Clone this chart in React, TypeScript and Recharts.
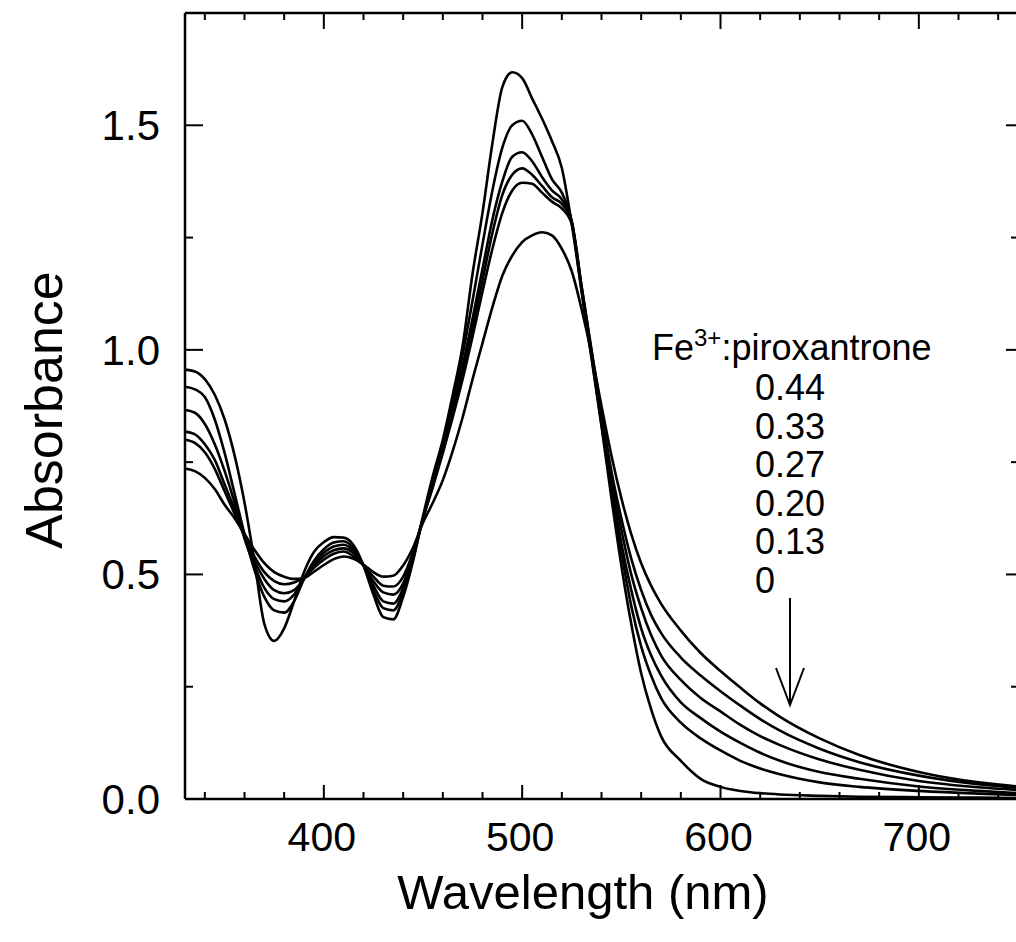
import { LineChart, Line, XAxis, YAxis } from 'recharts'

// wavelength grid (nm)
const wavelengths = [
  330, 335, 340, 345, 350, 355, 360, 365, 370, 375, 380, 385, 390, 395, 400, 405, 410, 415, 420, 425,
  430, 435, 440, 445, 450, 455, 460, 465, 470, 475, 480, 485, 490, 495, 500, 505, 510, 515, 520, 525,
  530, 535, 540, 545, 550, 555, 560, 565, 570, 580, 590, 600, 610, 620, 630, 650, 670, 700, 730, 750,
]

// Fe3+:piroxantrone = 0
const ratio0 = [
  0.956, 0.952, 0.935, 0.9, 0.845, 0.765, 0.66, 0.53, 0.39, 0.352, 0.38, 0.44, 0.505, 0.55, 0.572, 0.583, 0.582, 0.565, 0.52, 0.455,
  0.405, 0.4, 0.45, 0.53, 0.63, 0.72, 0.8, 0.9, 1.01, 1.17, 1.305, 1.46, 1.585, 1.618, 1.605, 1.56, 1.515, 1.465, 1.405, 1.28,
  1.13, 0.98, 0.83, 0.67, 0.52, 0.39, 0.28, 0.2, 0.14, 0.085, 0.045, 0.027, 0.018, 0.013, 0.01, 0.007, 0.005, 0.004, 0.003, 0.002,
]
// 0.13
const ratio13 = [
  0.918, 0.912, 0.895, 0.845, 0.77, 0.68, 0.59, 0.51, 0.45, 0.42, 0.415, 0.44, 0.49, 0.53, 0.556, 0.571, 0.574, 0.558, 0.52, 0.465,
  0.425, 0.42, 0.46, 0.535, 0.625, 0.71, 0.79, 0.885, 0.99, 1.11, 1.235, 1.355, 1.45, 1.5, 1.51, 1.48, 1.43, 1.38, 1.35, 1.285,
  1.13, 0.985, 0.835, 0.685, 0.55, 0.43, 0.34, 0.275, 0.225, 0.17, 0.135, 0.108, 0.085, 0.068, 0.055, 0.037, 0.027, 0.018, 0.012, 0.009,
]
// 0.20
const ratio20 = [
  0.866, 0.86, 0.835, 0.79, 0.73, 0.66, 0.58, 0.52, 0.47, 0.445, 0.44, 0.455, 0.49, 0.525, 0.548, 0.562, 0.566, 0.552, 0.52, 0.475,
  0.44, 0.435, 0.47, 0.54, 0.625, 0.7, 0.78, 0.87, 0.965, 1.07, 1.18, 1.29, 1.375, 1.43, 1.44, 1.42, 1.385, 1.355, 1.335, 1.285,
  1.135, 0.99, 0.84, 0.7, 0.57, 0.465, 0.38, 0.32, 0.275, 0.215, 0.18, 0.15, 0.125, 0.103, 0.085, 0.06, 0.045, 0.028, 0.018, 0.013,
]
// 0.27
const ratio27 = [
  0.818, 0.812, 0.79, 0.755, 0.7, 0.645, 0.585, 0.53, 0.49, 0.465, 0.458, 0.465, 0.49, 0.52, 0.541, 0.554, 0.558, 0.547, 0.52, 0.485,
  0.46, 0.455, 0.48, 0.545, 0.625, 0.7, 0.775, 0.86, 0.95, 1.05, 1.155, 1.26, 1.345, 1.39, 1.404, 1.39, 1.365, 1.34, 1.325, 1.285,
  1.14, 0.995, 0.85, 0.715, 0.6, 0.5, 0.425, 0.365, 0.32, 0.265, 0.225, 0.195, 0.165, 0.14, 0.12, 0.088, 0.065, 0.04, 0.026, 0.02,
]
// 0.33
const ratio33 = [
  0.8, 0.793, 0.772, 0.735, 0.685, 0.635, 0.585, 0.54, 0.505, 0.485, 0.478, 0.482, 0.493, 0.515, 0.533, 0.546, 0.551, 0.54, 0.52, 0.495,
  0.475, 0.473, 0.495, 0.55, 0.625, 0.695, 0.77, 0.85, 0.935, 1.03, 1.13, 1.225, 1.305, 1.355, 1.372, 1.37, 1.35, 1.33, 1.315, 1.28,
  1.14, 1.0, 0.86, 0.73, 0.625, 0.535, 0.465, 0.41, 0.37, 0.315, 0.275, 0.24, 0.208, 0.178, 0.152, 0.112, 0.082, 0.052, 0.033, 0.025,
]
// 0.44
const ratio44 = [
  0.736, 0.73, 0.715, 0.69, 0.655, 0.625, 0.59, 0.555, 0.525, 0.505, 0.495, 0.49, 0.492, 0.506, 0.521, 0.534, 0.54, 0.535, 0.522, 0.505,
  0.495, 0.497, 0.52, 0.56, 0.615, 0.66, 0.71, 0.775, 0.85, 0.935, 1.015, 1.095, 1.165, 1.21, 1.24, 1.255, 1.262, 1.255, 1.225, 1.175,
  1.09, 0.99, 0.875, 0.765, 0.67, 0.59, 0.525, 0.475, 0.435, 0.375, 0.325, 0.285, 0.248, 0.213, 0.183, 0.135, 0.098, 0.06, 0.037, 0.028,
]

const seriesKeys = ['r0', 'r13', 'r20', 'r27', 'r33', 'r44']
const ratioLabels = ['0.44', '0.33', '0.27', '0.20', '0.13', '0']

const xTicks = [340, 360, 380, 400, 420, 440, 460, 480, 500, 520, 540, 560, 580, 600, 620, 640, 660, 680, 700, 720, 740]
const yTicks = [0, 0.25, 0.5, 0.75, 1, 1.25, 1.5]

const data = wavelengths.map((nm, i) => ({
  nm,
  r0: ratio0[i],
  r13: ratio13[i],
  r20: ratio20[i],
  r27: ratio27[i],
  r33: ratio33[i],
  r44: ratio44[i],
}))

const FONT = '"Liberation Sans", Arial, Helvetica, sans-serif'

function BottomTick({ x, y, payload }: any) {
  const major = payload.value % 100 === 0
  return (
    <g>
      <line x1={x} x2={x} y1={y} y2={y - (major ? 14 : 7)} stroke="#000" strokeWidth={2} />
      {major && (
        <text x={x - 2} y={y + 52} textAnchor="middle" fontSize={41} fontFamily={FONT} fill="#000">
          {payload.value}
        </text>
      )}
    </g>
  )
}

function TopTick({ x, y, payload }: any) {
  const major = payload.value % 100 === 0
  return <line x1={x} x2={x} y1={y} y2={y + (major ? 16 : 7)} stroke="#000" strokeWidth={2} />
}

function LeftTick({ x, y, payload }: any) {
  const major = Math.abs(payload.value * 2 - Math.round(payload.value * 2)) < 1e-6
  return (
    <g>
      <line x1={x} x2={x + (major ? 18 : 8)} y1={y} y2={y} stroke="#000" strokeWidth={2} />
      {major && (
        <text x={x - 25} y={y + 15} textAnchor="end" fontSize={42} fontFamily={FONT} fill="#000">
          {payload.value.toFixed(1)}
        </text>
      )}
    </g>
  )
}

function RightTick({ x, y, payload }: any) {
  const major = Math.abs(payload.value * 2 - Math.round(payload.value * 2)) < 1e-6
  return <line x1={x} x2={x - (major ? 12 : 7)} y1={y} y2={y} stroke="#000" strokeWidth={2} />
}

export default function App() {
  const axisLine = { stroke: '#000', strokeWidth: 2.5 }
  return (
    <div style={{ position: 'absolute', left: 0, top: 0, width: 1016, height: 942, overflow: 'hidden', background: '#fff' }}>
      <LineChart width={1022} height={942} data={data} margin={{ top: 0, right: 0, bottom: 0, left: 0 }}>
        <XAxis
          dataKey="nm"
          type="number"
          domain={[330, 750]}
          ticks={xTicks}
          interval={0}
          height={143}
          tickSize={0}
          tickMargin={0}
          tickLine={false}
          axisLine={axisLine}
          tick={<BottomTick />}
          allowDataOverflow
        />
        <XAxis
          xAxisId="top"
          orientation="top"
          dataKey="nm"
          type="number"
          domain={[330, 750]}
          ticks={xTicks}
          interval={0}
          height={13}
          tickSize={0}
          tickMargin={0}
          tickLine={false}
          axisLine={axisLine}
          tick={<TopTick />}
          allowDataOverflow
        />
        <YAxis
          type="number"
          domain={[0, 1.75]}
          ticks={yTicks}
          interval={0}
          width={185}
          tickSize={0}
          tickMargin={0}
          tickLine={false}
          axisLine={axisLine}
          tick={<LeftTick />}
          allowDataOverflow
        />
        <YAxis
          yAxisId="right"
          orientation="right"
          type="number"
          domain={[0, 1.75]}
          ticks={yTicks}
          interval={0}
          width={4}
          tickSize={0}
          tickMargin={0}
          tickLine={false}
          axisLine={axisLine}
          tick={<RightTick />}
          allowDataOverflow
        />
        {seriesKeys.map((k) => (
          <Line
            key={k}
            type="monotone"
            dataKey={k}
            stroke="#000"
            strokeWidth={2.6}
            dot={false}
            activeDot={false}
            isAnimationActive={false}
          />
        ))}
      </LineChart>

      <svg
        width={1016}
        height={942}
        style={{ position: 'absolute', left: 0, top: 0, pointerEvents: 'none' }}
        fontFamily={FONT}
      >
        <text x={583} y={909} textAnchor="middle" fontSize={49} fill="#000">
          Wavelength (nm)
        </text>
        <text
          x={0}
          y={0}
          transform="translate(62, 410) rotate(-90)"
          textAnchor="middle"
          fontSize={52}
          fill="#000"
        >
          Absorbance
        </text>
        <text x={652} y={360} fontSize={36} fill="#000">
          Fe
          <tspan dy={-14} fontSize={24}>3+</tspan>
          <tspan dy={14}>:piroxantrone</tspan>
        </text>
        {ratioLabels.map((t, i) => (
          <text key={t} x={755} y={400 + i * 38.5} fontSize={36} fill="#000">
            {t}
          </text>
        ))}
        <line x1={790} x2={790} y1={598} y2={705} stroke="#000" strokeWidth={2} />
        <polyline points="776,668 790,705 804,668" fill="none" stroke="#000" strokeWidth={2} />
      </svg>
    </div>
  )
}
